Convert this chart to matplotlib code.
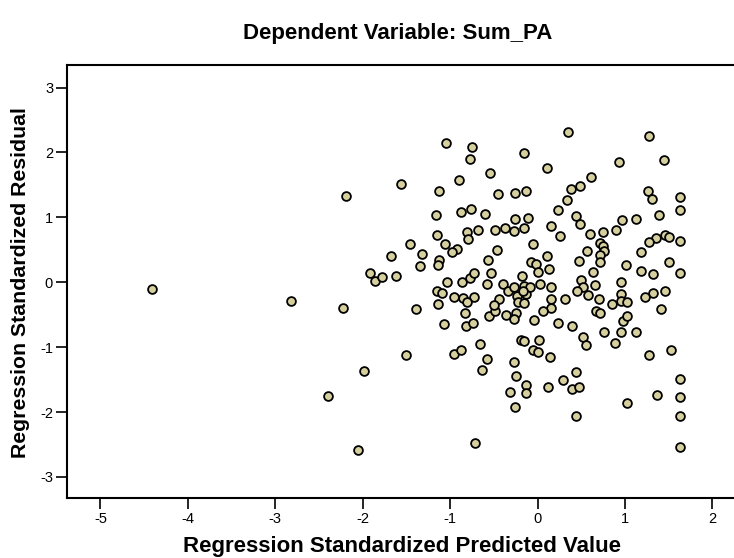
import matplotlib
matplotlib.use("Agg")
import matplotlib.pyplot as plt

# standardized predicted value (x) and standardized residual (y)
pred = [-4.41, -2.82, -2.19, -1.56, -1.46, -1.68, -1.32, -1.35, -1.92, -1.86,
        -1.78, -1.62, -2.22, -1.39, -1.50, -1.99, -2.40, -2.05,
        -1.05, -0.75, -0.77, -0.16, -0.54, -0.90, -1.13, -0.45, -0.26, -0.13,
        -1.16, -0.88, -0.76, -0.60, -0.26, -0.11, -1.15, -1.06, -0.81, -0.79,
        -0.68, -0.92, -0.98, -0.49, -0.37, -0.27, -0.16, -1.13, -1.14, -0.46,
        -0.57, -1.04, -1.15, -1.09, -0.95, -0.86, -0.77, -0.73, -0.53, -0.58,
        -0.40, -0.34, -0.27, -0.18, -0.16, -0.85, -0.73, -0.44, -0.24, -0.13,
        -1.14, -0.81, -0.83, -1.07, -0.82, -0.74, -0.55, -0.49, -0.50, -0.36,
        -0.25, -0.27, -0.22, -0.16, -0.66, -0.95, -0.87, -0.58, -0.63, -0.19,
        -0.16, -0.27, -0.25, -0.13, -0.13, -0.32, -0.26, -0.71,
        0.35, 0.11, 0.93, 0.61, 0.49, 0.38, 0.34, 0.23, 0.44, 0.49, 0.15, 0.26,
        0.60, 0.75, 0.90, 0.97, -0.05, 0.71, 0.75, 0.76, 0.72, 0.71, 0.57, 0.47,
        0.11, -0.07, -0.02, 0.13, 0.01, 0.63, 1.01, -0.09, 0.03, 0.15, 0.50,
        0.52, 0.45, 0.66, 0.95, 0.95, 0.58, 0.32, 0.15,
        0.16, 0.06, -0.04, 0.70, 0.67, 0.72, 0.85, 0.95, 1.02, 0.98, 1.02, 0.24,
        0.39, 0.52, 0.56, 0.76, 0.95, 0.89, 0.02, -0.05, 0.01, 0.14, 0.44, 0.29,
        0.39, 0.48, 0.12, 1.02, 0.44,
        1.27, 1.45, 1.26, 1.31, 1.63, 1.63, 1.39, 1.13, 1.46, 1.50, 1.36, 1.27,
        1.63, 1.18, 1.50, 1.18, 1.32, 1.63, 1.46, 1.32, 1.23,
        1.41, 1.13, 1.28, 1.53, 1.63, 1.37, 1.63, 1.63, 1.63, -0.17]
resid = [-0.10, -0.29, 1.33, 1.51, 0.59, 0.41, 0.43, 0.25, 0.14, 0.02,
         0.08, 0.09, -0.39, -0.41, -1.12, -1.37, -1.75, -2.59,
         2.14, 2.08, 1.90, 1.99, 1.69, 1.58, 1.40, 1.36, 1.37, 1.40,
         1.03, 1.09, 1.13, 1.05, 0.98, 0.99, 0.73, 0.59, 0.78, 0.66,
         0.80, 0.52, 0.46, 0.80, 0.84, 0.79, 0.84, 0.34, 0.26, 0.49,
         0.35, 0.00, -0.13, -0.16, -0.22, 0.00, 0.07, 0.14, 0.14, -0.02,
         -0.02, -0.13, -0.07, 0.09, -0.05, -0.24, -0.23, -0.25, -0.21, -0.18,
         -0.33, -0.30, -0.48, -0.65, -0.67, -0.62, -0.52, -0.45, -0.35, -0.51,
         -0.48, -0.57, -0.30, -0.32, -0.95, -1.10, -1.05, -1.18, -1.35, -0.89,
         -0.90, -1.23, -1.44, -1.59, -1.70, -1.69, -1.92, -2.47,
         2.32, 1.76, 1.85, 1.62, 1.48, 1.43, 1.27, 1.12, 1.02, 0.90, 0.87, 0.72,
         0.75, 0.78, 0.80, 0.96, 0.59, 0.61, 0.56, 0.48, 0.42, 0.31, 0.48, 0.33,
         0.41, 0.31, 0.28, 0.21, 0.16, 0.16, 0.26, -0.07, -0.03, -0.08, 0.03,
         -0.07, -0.14, -0.04, 0.00, -0.18, -0.20, -0.25, -0.26,
         -0.39, -0.44, -0.58, -0.26, -0.44, -0.47, -0.33, -0.29, -0.31, -0.59, -0.52, -0.62,
         -0.68, -0.85, -0.97, -0.77, -0.77, -0.93, -0.89, -1.05, -1.08, -1.15, -1.38, -1.51,
         -1.65, -1.61, -1.62, -1.86, -2.06,
         2.25, 1.88, 1.41, 1.28, 1.31, 1.12, 1.04, 0.98, 0.73, 0.70, 0.68, 0.62,
         0.64, 0.47, 0.32, 0.18, 0.12, 0.15, -0.14, -0.17, -0.22,
         -0.41, -0.76, -1.12, -1.05, -1.49, -1.74, -1.77, -2.06, -2.54, -0.14]

xticks = [-5, -4, -3, -2, -1, 0, 1, 2]
yticks = [-3, -2, -1, 0, 1, 2, 3]

plt.rcParams['font.family'] = ['Liberation Sans', 'DejaVu Sans']

W, H = 734, 558
fig = plt.figure(figsize=(W / 100, H / 100), dpi=100)
ax = fig.add_axes([67 / W, 60 / H, (745 - 67) / W, (498 - 65) / H])

ax.scatter(pred, resid, s=40, facecolor='#d6cf9e', edgecolor='black',
           linewidth=1.3, zorder=3)

ax.set_xlim(-5.383, 2.374)
ax.set_ylim(-3.324, 3.348)
ax.set_xticks(xticks)
ax.set_yticks(yticks)
ax.set_xticklabels([str(t) for t in xticks])
ax.set_yticklabels([str(t) for t in yticks])
ax.tick_params(direction='out', length=8, width=1.2, labelsize=10.5, pad=2,
               colors='black')
for sp in ax.spines.values():
    sp.set_linewidth(1.5)

fig.text(398 / W, 1 - 33 / H, "Dependent Variable: Sum_PA", ha='center',
         va='center', fontsize=16, fontweight='bold')
fig.text(402 / W, 1 - 552 / H, "Regression Standardized Predicted Value",
         ha='center', va='baseline', fontsize=16, fontweight='bold')
fig.text(21 / W, 1 - 283 / H, "Regression Standardized Residual",
         ha='center', va='center', rotation=90, fontsize=15.3, fontweight='bold')

fig.savefig("out.png", dpi=100)
